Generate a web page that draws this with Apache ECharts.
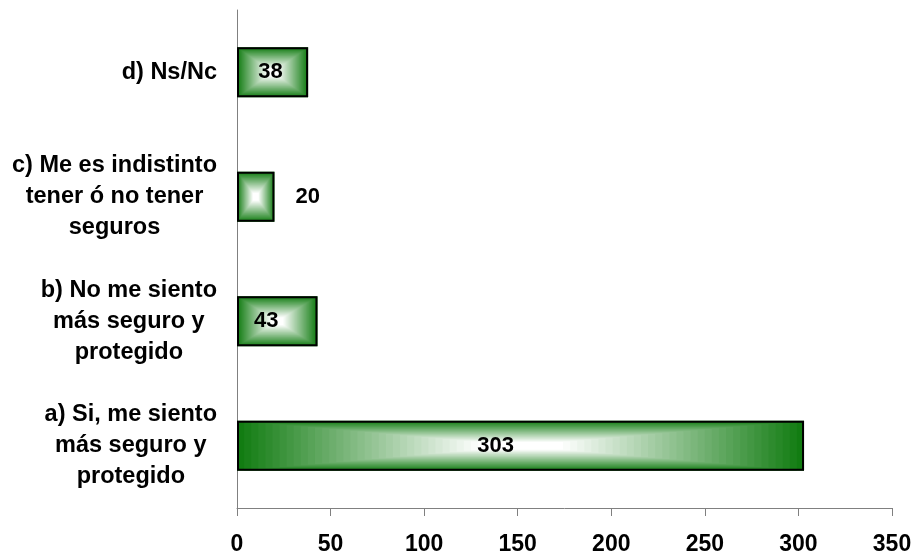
<!DOCTYPE html>
<html><head><meta charset="utf-8">
<script src="https://cdn.jsdelivr.net/npm/echarts@6/dist/echarts.min.js"></script>
<style>html,body{margin:0;padding:0;background:#fff}#c{width:915px;height:556px}</style>
</head><body><div id="c"></div>
<script>
const categories = [
  'a) Si, me siento\nmás seguro y\nprotegido',
  'b) No me siento\nmás seguro y\nprotegido',
  'c) Me es indistinto\ntener ó no tener\nseguros',
  'd) Ns/Nc'
];
const values = [303, 43, 20, 38];
const xMin = 0, xMax = 350, xInterval = 50;

const BAR_W = 50;
const FONT = '"Liberation Sans", Arial, sans-serif';
const DARK = [18, 124, 18];

function mix(t) {
  const c = DARK.map(d => Math.round(d + (255 - d) * t));
  return 'rgb(' + c.join(',') + ')';
}

const labelCfg = [
  { position: 'inside', offset: [-25, 0] },
  { position: 'inside', offset: [-11, 0] },
  { position: 'right', distance: 21 },
  { position: 'inside', offset: [-2, 0] }
];

const chart = echarts.init(document.getElementById('c'));
chart.setOption({
  animation: false,
  backgroundColor: '#fff',
  grid: { left: 237, right: 23, top: 10, bottom: 48, containLabel: false },
  xAxis: {
    type: 'value', min: xMin, max: xMax, interval: xInterval,
    axisLine: { show: true, lineStyle: { color: '#808080', width: 1 } },
    axisTick: { show: true, length: 8, lineStyle: { color: '#808080' } },
    splitLine: { show: false },
    axisLabel: { color: '#000', fontFamily: FONT, fontWeight: 'bold', fontSize: 23, margin: 25 }
  },
  yAxis: {
    type: 'category', data: categories,
    axisLine: { show: true, lineStyle: { color: '#808080', width: 1 } },
    axisTick: { show: false },
    axisLabel: {
      margin: 20,
      formatter: v => v.split('\n').map(s => '{c|' + s + '}').join('\n'),
      rich: { c: { align: 'center', color: '#000', fontFamily: FONT, fontWeight: 'bold', fontSize: 23.5, lineHeight: 31 } }
    }
  },
  series: [
    {
      type: 'custom',
      data: values.map((v, i) => [v, i]),
      encode: { x: 0, y: 1 },
      z: 1,
      renderItem: (params, api) => {
        const v = api.value(0), cat = api.value(1);
        const p0 = api.coord([0, cat]), p1 = api.coord([v, cat]);
        const x0 = p0[0], w = p1[0] - p0[0], yc = p0[1], h = BAR_W;
        const N = 40, children = [];
        for (let i = 0; i < N; i++) {
          const f = i / N;
          children.push({
            type: 'rect',
            shape: { x: x0 + f * w / 2, y: yc - h / 2 + f * h / 2, width: w * (1 - f), height: h * (1 - f) },
            style: { fill: mix(Math.min(1, 1.18 * f)) }
          });
        }
        return { type: 'group', children };
      }
    },
    {
      type: 'bar',
      z: 3,
      barWidth: BAR_W,
      data: values.map((v, i) => ({ value: v, label: labelCfg[i] })),
      itemStyle: { color: 'rgba(0,0,0,0)', borderColor: '#000', borderWidth: 2 },
      label: { show: true, color: '#000', fontFamily: FONT, fontWeight: 'bold', fontSize: 22 }
    }
  ]
});
</script>
</body></html>
